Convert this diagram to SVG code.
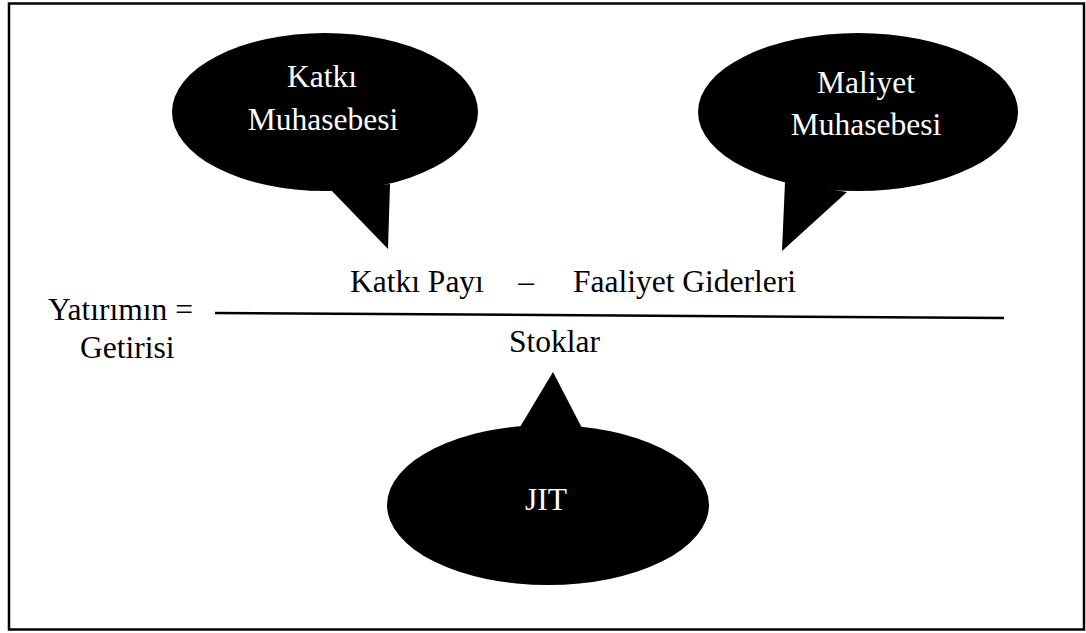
<svg xmlns="http://www.w3.org/2000/svg" width="1086" height="633" viewBox="0 0 1086 633">
<style>
.bub{fill:#000}
.bt{font-size:31.5px;fill:#fff;text-anchor:middle}
.ft{font-size:31.5px;fill:#000}
</style>
<rect x="9" y="3.5" width="1075" height="626" fill="#fff" stroke="#000" stroke-width="2.5"/>
<g font-family="'Liberation Serif', Tinos, 'Times New Roman', 'DejaVu Serif', serif">
<g id="katki">
<ellipse class="bub" cx="325" cy="112" rx="153" ry="79"/>
<polygon class="bub" points="331,190 388,249 390,184"/>
<text class="bt" x="322" y="87">Katkı</text>
<text class="bt" x="323" y="130">Muhasebesi</text>
</g>
<g id="maliyet">
<ellipse class="bub" cx="858" cy="112" rx="160" ry="79"/>
<polygon class="bub" points="785,182 782,251 847,192"/>
<text class="bt" x="866" y="93">Maliyet</text>
<text class="bt" x="866" y="135">Muhasebesi</text>
</g>
<g id="jit">
<ellipse class="bub" cx="548" cy="505" rx="161" ry="80"/>
<polygon class="bub" points="520,427 553,372 582,428"/>
<text class="bt" x="546" y="510">JIT</text>
</g>
<g id="formula">
<text class="ft" x="350" y="292">Katkı Payı</text>
<text class="ft" x="526" y="292" text-anchor="middle">–</text>
<text class="ft" x="573" y="292">Faaliyet Giderleri</text>
<text class="ft" x="48" y="320">Yatırımın =</text>
<text class="ft" x="80" y="358">Getirisi</text>
<text class="ft" x="509" y="352">Stoklar</text>
</g>
</g>
<g id="connectors">
<line x1="215" y1="313" x2="1004" y2="318" stroke="#000" stroke-width="2.5"/>
</g>
</svg>
